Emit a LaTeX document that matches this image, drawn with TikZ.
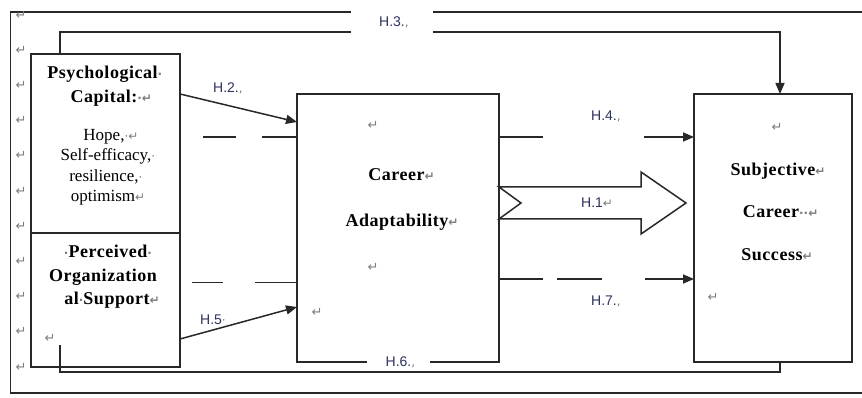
\documentclass[tikz,border=0pt]{standalone}
\usepackage{fontspec}
\setmainfont{Liberation Serif}
\newfontfamily\bsf[LetterSpace=3]{Liberation Serif}
\newfontfamily\lblfont{Liberation Sans}
\newfontfamily\markfont{DejaVu Sans}
\usetikzlibrary{arrows.meta}
\definecolor{lblc}{RGB}{45,50,95}
\definecolor{lnc}{RGB}{40,40,40}
\definecolor{mkc}{RGB}{125,125,125}
\newcommand\mk[1]{{\markfont\color{mkc}\fontsize{12}{12}\selectfont #1}}
\tikzset{
  box/.style={draw=lnc, line width=1.5pt, fill=white, inner sep=0pt},
  conn/.style={draw=lnc, line width=1.5pt},
  arr/.style={conn, -{Triangle[length=11pt,width=9pt]}},
  btxt/.style={font=\bsf\bfseries\fontsize{18}{20}\selectfont, inner sep=0pt, anchor=base},
  rtxt/.style={font=\fontsize{17}{19}\selectfont, inner sep=0pt, anchor=base},
  lbl/.style={font=\lblfont\fontsize{14}{16}\selectfont, text=lblc, inner sep=0pt, anchor=base west},
  lblmask/.style={font=\lblfont\fontsize{14}{16}\selectfont, text=lblc, inner sep=0pt, fill=white},
  mkn/.style={inner sep=0pt, anchor=center, font=\markfont\fontsize{13}{13}\selectfont, text=mkc}
}
\begin{document}
\begin{tikzpicture}[x=1pt,y=-1pt]
\clip (0,0) rectangle (862,398);
\fill[white] (0,0) rectangle (862,398);
% outer frame
\draw[conn] (10.5,12) rectangle (880,393);
% boxes
\node[box, minimum width=149pt, minimum height=179pt] (psych) at (105.5,143.5) {};
\node[box, minimum width=149pt, minimum height=134pt] (pos) at (105.5,300) {};
\node[box, minimum width=202pt, minimum height=268pt] (ca) at (398,228) {};
\node[box, minimum width=158pt, minimum height=268pt] (scs) at (773,228) {};
% H.3 and H.6 loops
\coordinate (h3s) at (60,54);
\coordinate (h3top) at (420,32);
\coordinate (h3e) at (780,94);
\draw[arr] (h3s) |- (h3top) -| (h3e);
\coordinate (h6s) at (60,345);
\coordinate (h6bot) at (420,372);
\coordinate (h6e) at (780,362);
\draw[conn] (h6s) |- (h6bot) -| (h6e);
% H.2 / H.5
\coordinate (h2s) at (180,94);
\coordinate (h2e) at (297,122);
\draw[arr] (h2s) -- (h2e);
\coordinate (h5s) at (180,339);
\coordinate (h5e) at (297,307);
\draw[arr] (h5s) -- (h5e);
% upper broken line (H.4)
\coordinate (u1) at (203,137); \coordinate (u2) at (236,137);
\coordinate (u3) at (262,137); \coordinate (u4) at (297,137);
\coordinate (u5) at (499,137); \coordinate (u6) at (543,137);
\coordinate (u7) at (644,137); \coordinate (u8) at (694,137);
\draw[conn] (u1) -- (u2);
\draw[conn] (u3) -- (u4);
\draw[conn] (u5) -- (u6);
\draw[arr] (u7) -- (u8);
% lower broken line (H.7)
\coordinate (l1) at (192,282.5); \coordinate (l2) at (223,282.5);
\coordinate (l3) at (255,282.5); \coordinate (l4) at (297,282.5);
\coordinate (l5) at (499,279); \coordinate (l6) at (543,279);
\coordinate (l7) at (557,279); \coordinate (l8) at (602,279);
\coordinate (l9) at (645,279); \coordinate (l10) at (694,279);
\draw[conn] (l1) -- (l2);
\draw[conn] (l3) -- (l4);
\draw[conn] (l5) -- (l6);
\draw[conn] (l7) -- (l8);
\draw[arr] (l9) -- (l10);
% H.1 block arrow
\draw[conn, fill=white, line join=miter] (499,187) -- (641,187) -- (641,172) -- (686,203) -- (641,234) -- (641,219) -- (499,219) -- (521,203) -- cycle;
% labels
\node[lblmask, minimum width=82pt, minimum height=30pt] (lh3) at (392,22) {H.3.\rlap{\mk{,}}};
\node[lblmask, minimum width=63pt, minimum height=14pt] (lh6) at (398.5,362) {H.6.\rlap{\mk{,}}};
\node[lbl] (lh2) at (213,93) {H.2.\rlap{\mk{,}}};
\node[lbl] (lh4) at (591,121) {H.4.\rlap{\mk{,}}};
\node[lbl] (lh1) at (581,208) {H.1\rlap{\mk{↵}}};
\node[lbl] (lh7) at (591,305) {H.7.\rlap{\mk{,}}};
\node[lbl] (lh5) at (200,324) {H.5\rlap{\mk{·}}};
% psychological capital text
\node[btxt] (pc1) at (102.5,79) {Psychological\rlap{\mk{·}}};
\node[btxt] (pc2) at (104,103) {Capital:\rlap{\mk{·↵}}};
\node[rtxt] (pc3) at (104,140.5) {Hope,\rlap{\mk{·↵}}};
\node[rtxt] (pc4) at (106,160.5) {Self-efficacy,\rlap{\mk{·}}};
\node[rtxt] (pc5) at (104,181.5) {resilience,\rlap{\mk{·}}};
\node[rtxt] (pc6) at (103,201.5) {optimism\rlap{\mk{↵}}};
% perceived organizational support text
\node[btxt] (po1) at (108,258) {\llap{\mk{·}}Perceived\rlap{\mk{·}}};
\node[btxt] (po2) at (103,281) {Organization};
\node[btxt] (po3) at (107,304) {al{\mk{·}}Support\rlap{\mk{↵}}};
% career adaptability text
\node[btxt] (ca1) at (396.5,181) {Career\rlap{\mk{↵}}};
\node[btxt] (ca2) at (397,226) {Adaptability\rlap{\mk{↵}}};
% subjective career success text
\node[btxt] (sc1) at (773,176) {Subjective\rlap{\mk{↵}}};
\node[btxt] (sc2) at (771,218) {Career\rlap{\mk{··↵}}};
\node[btxt] (sc3) at (772,260) {Success\rlap{\mk{↵}}};
% paragraph marks
\foreach \i in {0,...,10} {
  \node[mkn] (m\i) at (21,{15+35.2*\i}) {↵};
}
\node[mkn] (mp) at (50,338) {↵};
\node[mkn] (mc1) at (373,125) {↵};
\node[mkn] (mc2) at (373,267) {↵};
\node[mkn] (mc3) at (317,312) {↵};
\node[mkn] (ms1) at (777,127) {↵};
\node[mkn] (ms2) at (713,297) {↵};
\end{tikzpicture}
\end{document}
